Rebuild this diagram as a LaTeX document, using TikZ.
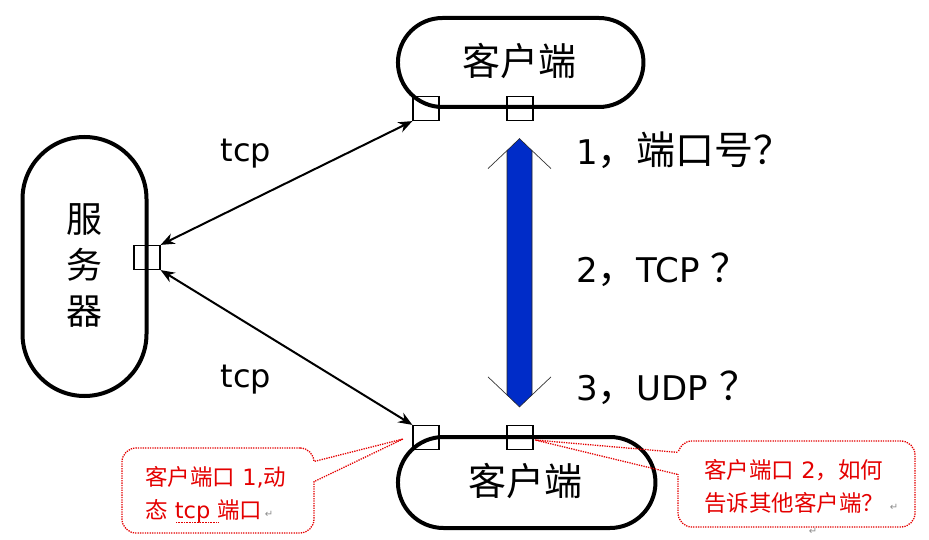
\documentclass[tikz,border=0pt]{standalone}
\usepackage{fontspec}
\setmainfont{DejaVu Sans}
\newfontfamily\cjk{Noto Sans CJK SC}
\usetikzlibrary{arrows.meta,calc}
\definecolor{arrowblue}{RGB}{0,44,200}
\definecolor{callred}{RGB}{228,0,0}
\newcommand{\qcjk}[1]{{\cjk\fontsize{39}{40}\selectfont #1}}
\begin{document}
\begin{tikzpicture}[x=1pt,y=-1pt,
  term/.style={draw, line width=4pt, inner sep=0pt},
  port/.style={draw, line width=1.2pt, minimum width=26pt, minimum height=24pt, inner sep=0pt},
  link/.style={line width=2pt, {Stealth[length=14pt,width=11pt]}-{Stealth[length=14pt,width=11pt]}},
  callbox/.style={draw=callred, line width=1.3pt, dash pattern=on 1.3pt off 1.1pt, rounded corners=14pt, inner sep=0pt},
  callline/.style={draw=callred, line width=1.3pt, dash pattern=on 1.3pt off 1.1pt},
  calltext/.style={anchor=base west, inner sep=0pt, text=callred, font=\fontsize{22.5}{26}\selectfont},
  bigtext/.style={font=\cjk\fontsize{38}{40}\selectfont, inner sep=0pt},
  qtext/.style={anchor=base west, inner sep=0pt, font=\fontsize{34}{40}\selectfont},
  tcplabel/.style={anchor=base, inner sep=0pt, font=\fontsize{32}{38}\selectfont},
  pmark/.style={text=black!45, inner sep=0pt, font=\fontsize{10}{10}\selectfont}
]
\useasboundingbox (0,0) rectangle (929,540);

% terminals
\node[term, rounded corners=44.5pt, minimum width=245.5pt, minimum height=89pt] (c1) at (520.7,62.5) {};
\node[term, rounded corners=45.5pt, minimum width=257.5pt, minimum height=91pt] (c2) at (526.7,482.5) {};
\node[term, rounded corners=62pt, minimum width=124pt, minimum height=259pt] (srv) at (84.5,266.5) {};

\node[bigtext] (c1t) at (519.5,61) {客户端};
\node[bigtext] (c2t) at (525,481) {客户端};
\node[font=\cjk\fontsize{36}{46}\selectfont, align=center, inner sep=0pt] (srvt) at (84,265) {服\\务\\器};

% ports
\node[port] (sp) at (147,257.5) {};
\node[port] (tp1) at (426,108.5) {};
\node[port] (tp2) at (520,108.5) {};
\node[port] (bp1) at (426,437.5) {};
\node[port] (bp2) at (520,437.5) {};

% tcp links
\draw[link] (sp.north east) -- (tp1.south west);
\draw[link] (sp.south east) -- (bp1.north west);
\node[tcplabel] (tcp1) at (246,162) {tcp};
\node[tcplabel] (tcp2) at (246,387) {tcp};

% blue double arrow
\coordinate (bt) at ($(tp2.south)+(-0.5,17.5)$);
\coordinate (bb) at ($(bp2.north)+(-0.5,-18)$);
\filldraw[fill=arrowblue, draw=black!85, line width=0.6pt]
  (bt) -- ($(bt)+(12.5,12)$) -- ($(bb)+(12.5,-12)$) -- (bb) -- ($(bb)+(-12.5,-12)$) -- ($(bt)+(-12.5,12)$) -- cycle;
\draw[black!80, line width=0.7pt] ($(bt)+(-31.5,30)$) -- ($(bt)+(-12.5,12)$);
\draw[black!80, line width=0.7pt] ($(bt)+(31.5,30)$) -- ($(bt)+(12.5,12)$);
\draw[black!80, line width=0.7pt] ($(bb)+(-31.5,-30)$) -- ($(bb)+(-12.5,-12)$);
\draw[black!80, line width=0.7pt] ($(bb)+(31.5,-30)$) -- ($(bb)+(12.5,-12)$);

% questions
\node[qtext] (q1) at (576,165) {1\qcjk{，端口号？}};
\node[qtext] (q2) at (576,282) {2\qcjk{，}TCP \qcjk{？}};
\node[qtext] (q3) at (576,400) {3\qcjk{，}UDP \qcjk{？}};

% left callout
\node[callbox, minimum width=192pt, minimum height=85pt] (lcb) at (218,490.5) {};
\coordinate (ltip) at (403,439);
\fill[white] ($(lcb.north east)+(-2.5,14)$) rectangle ($(lcb.north east)+(2.5,34)$);
\draw[callline] ($(lcb.north east)+(0,14)$) -- (ltip) -- ($(lcb.north east)+(0,34)$);
\node[calltext] (lt1) at (145,485) {{\cjk 客户端口} 1,{\cjk 动}};
\node[calltext] (lt2) at (145,518) {{\cjk 态} tcp {\cjk 端口}};
\draw[callred, line width=0.8pt, dash pattern=on 0.8pt off 0.8pt] (176,522) -- (218,522);
\node[pmark] (pm1) at (269,514) {↵};

% right callout
\node[callbox, minimum width=237pt, minimum height=86pt] (rcb) at (796.5,484) {};
\coordinate (rtip) at (535,440);
\fill[white] ($(rcb.north west)+(-2.5,12)$) rectangle ($(rcb.north west)+(2.5,34)$);
\draw[callline] ($(rcb.north west)+(0,12)$) -- (rtip) -- ($(rcb.north west)+(0,34)$);
\node[calltext] (rt1) at (704,478) {{\cjk 客户端口} 2{\cjk ，如何}};
\node[calltext] (rt2) at (704,511) {{\cjk 告诉其他客户端？}};
\node[pmark] (pm2) at (894,507) {↵};
\node[pmark] (pm3) at (813,531) {↵};
\end{tikzpicture}
\end{document}
